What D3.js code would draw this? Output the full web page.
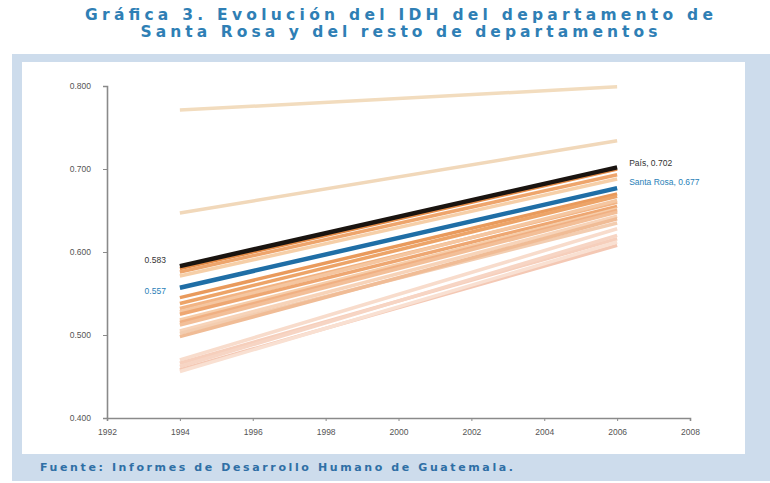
<!DOCTYPE html>
<html>
<head>
<meta charset="utf-8">
<script src="https://cdn.jsdelivr.net/npm/d3@7"></script>
<style>
  body { margin: 0; background: #fff; }
  svg { display: block; }
</style>
</head>
<body>
<div id="fig"></div>
<script>
let width = 770;
let height = 483;

// years shown
let years = [1994, 2006];
let xTicks = [1992, 1994, 1996, 1998, 2000, 2002, 2004, 2006, 2008];
let yTicks = [0.4, 0.5, 0.6, 0.7, 0.8];

// IDH of the other departments, 1994 and 2006
let deptStart = [0.771, 0.647, 0.580, 0.576, 0.571, 0.545, 0.538, 0.532, 0.528, 0.525,
                 0.518, 0.515, 0.512, 0.505, 0.502, 0.498, 0.470, 0.466, 0.462, 0.458, 0.456];
let deptEnd   = [0.799, 0.734, 0.700, 0.693, 0.688, 0.670, 0.667, 0.660, 0.662, 0.655,
                 0.652, 0.650, 0.648, 0.643, 0.635, 0.640, 0.628, 0.616, 0.620, 0.608, 0.612];
let deptColor = ['#f2dcbe', '#f1d8ba', '#e48a45', '#eea56c', '#f6cfa8', '#e99a5c', '#eda468', '#f2b484',
                 '#f5c6a0', '#eea772', '#f6cca8', '#f0b083', '#f3bf98', '#f7d3b8', '#f3cdb0', '#f0bc96',
                 '#f8dccc', '#f6cfbc', '#f7d5c4', '#f4c8b4', '#f9e0d2'];

let pais = [0.583, 0.702];
let santaRosa = [0.557, 0.677];

let svg = d3.select('#fig').append('svg')
    .attr('width', width)
    .attr('height', height);

// title
let titleLines = ['Gráfica 3. Evolución del IDH del departamento de',
                  'Santa Rosa y del resto de departamentos'];
let titleWidths = [628, 517];
svg.selectAll('text.title')
    .data(titleLines)
    .join('text')
    .attr('class', 'title')
    .attr('x', 399)
    .attr('y', (d, i) => 20 + i * 17)
    .attr('text-anchor', 'middle')
    .attr('textLength', (d, i) => titleWidths[i])
    .attr('lengthAdjust', 'spacing')
    .style('font-family', 'DejaVu Sans, sans-serif')
    .style('font-weight', 'bold')
    .style('font-size', '15.5px')
    .style('fill', '#2f7fb5')
    .text(d => d);

// blue frame and white panel
svg.append('rect')
    .attr('x', 12).attr('y', 54)
    .attr('width', 758).attr('height', 427)
    .attr('fill', '#cddcec');
svg.append('rect')
    .attr('x', 22).attr('y', 62)
    .attr('width', 723).attr('height', 392)
    .attr('fill', '#ffffff');

svg.append('text')
    .attr('x', 40).attr('y', 471)
    .attr('textLength', 473)
    .attr('lengthAdjust', 'spacing')
    .style('font-family', 'DejaVu Sans, sans-serif')
    .style('font-weight', 'bold')
    .style('font-size', '11px')
    .style('fill', '#2f6fa5')
    .text('Fuente: Informes de Desarrollo Humano de Guatemala.');

let x = d3.scaleLinear().domain([1992, 2008]).range([107, 690]);
let y = d3.scaleLinear().domain([0.4, 0.8]).range([418, 86]);

let xAxis = svg.append('g')
    .attr('transform', `translate(0,${y(0.4)})`)
    .call(d3.axisBottom(x).tickValues(xTicks).tickFormat(d3.format('d')).tickSize(3).tickPadding(8));

let yAxis = svg.append('g')
    .attr('transform', `translate(${x(1992)},0)`)
    .call(d3.axisLeft(y).tickValues(yTicks).tickFormat(d3.format('.3f')).tickSize(4).tickPadding(12));

[xAxis, yAxis].forEach(ax => {
    ax.select('.domain').attr('stroke', '#8a8a8a').attr('stroke-width', 1.6);
    ax.selectAll('.tick line').attr('stroke', '#8a8a8a');
    ax.selectAll('.tick text')
        .style('font-family', 'Liberation Sans, Arial, sans-serif')
        .style('font-size', '8.5px')
        .style('fill', '#555');
});

let line = d3.line()
    .x((d, i) => x(years[i]))
    .y(d => y(d));

let depts = deptStart.map((s, i) => ({ v: [s, deptEnd[i]], c: deptColor[i] }));

svg.append('g')
    .selectAll('path')
    .data(depts)
    .join('path')
    .attr('d', d => line(d.v))
    .attr('fill', 'none')
    .attr('stroke', d => d.c)
    .attr('stroke-width', 3.5);

svg.append('path')
    .attr('d', line(santaRosa))
    .attr('fill', 'none')
    .attr('stroke', '#1f6ea6')
    .attr('stroke-width', 4.5);

svg.append('path')
    .attr('d', line(pais))
    .attr('fill', 'none')
    .attr('stroke', '#1a1410')
    .attr('stroke-width', 4.5);

// labels
let lbl = (tx, ty, txt, col, anchor) => svg.append('text')
    .attr('x', tx).attr('y', ty)
    .attr('text-anchor', anchor)
    .style('font-family', 'Liberation Sans, Arial, sans-serif')
    .style('font-size', '8.5px')
    .style('fill', col)
    .text(txt);

lbl(x(1994) - 14, y(pais[0]) - 3, d3.format('.3f')(pais[0]), '#333', 'end');
lbl(x(1994) - 14, y(santaRosa[0]) + 6, d3.format('.3f')(santaRosa[0]), '#2a7fb8', 'end');
lbl(x(2006) + 12, y(pais[1]) - 1, 'País, ' + d3.format('.3f')(pais[1]), '#333', 'start');
lbl(x(2006) + 12, y(santaRosa[1]) - 3, 'Santa Rosa, ' + d3.format('.3f')(santaRosa[1]), '#2a7fb8', 'start');
</script>
</body>
</html>
